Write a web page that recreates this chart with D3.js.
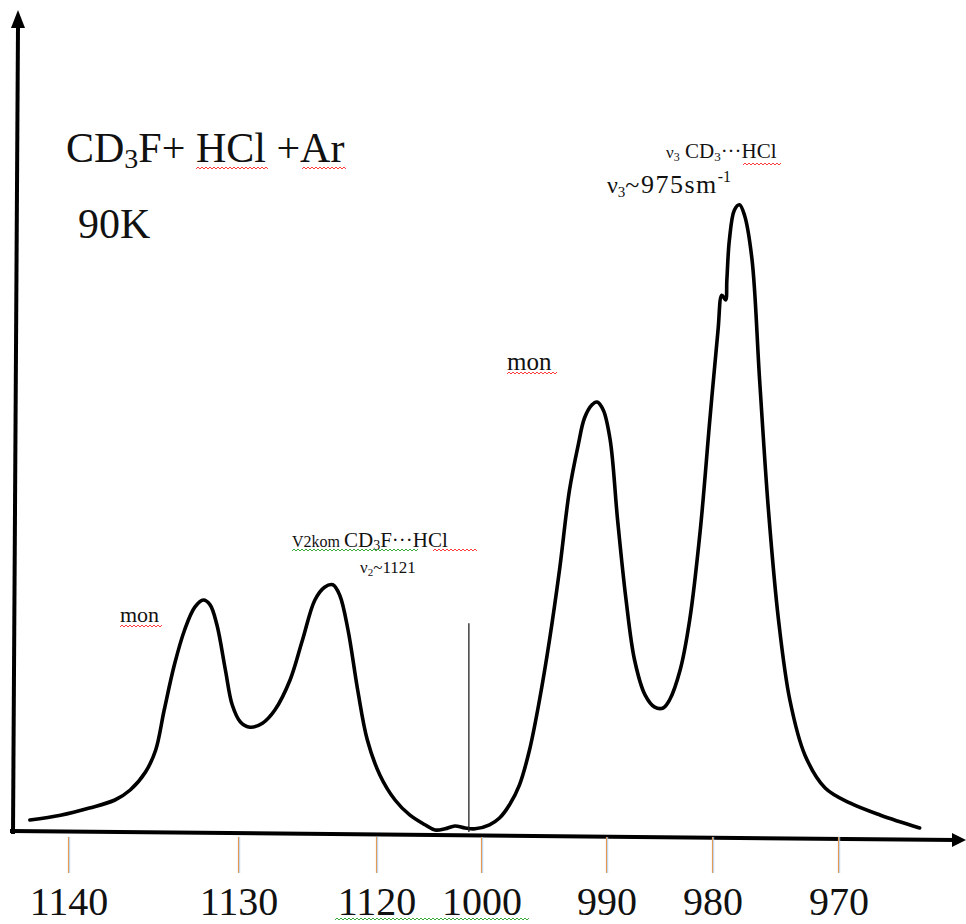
<!DOCTYPE html>
<html>
<head>
<meta charset="utf-8">
<script src="https://cdn.jsdelivr.net/npm/d3@7/dist/d3.min.js"></script>
<style>
  html, body { margin: 0; padding: 0; background: #fff; }
  svg { display: block; }
  text { font-family: "Liberation Serif", "Times New Roman", serif; fill: #111; }
</style>
</head>
<body>
<svg id="chart" width="966" height="924"></svg>
<script>
// ---- data ----
const tickValues = [1140, 1130, 1120, 1000, 990, 980, 970];
const tickLabels = ["1140", "1130", "1120", "1000", "990", "980", "970"];
// wavenumber (cm-1, broken axis) of the traced spectrum
const wavenumber = [1142.3, 1140.5, 1138.8, 1137.3, 1136.4, 1135.5, 1134.9, 1134.4, 1133.8, 1133.2,
  1132.6, 1132.1, 1131.7, 1131.3, 1130.8, 1130.4, 1129.9, 1129.2, 1128.3, 1127.4,
  1126.3, 1125.4, 1124.5, 1123.8, 1123.2, 1122.7, 1122.1, 1121.4, 1120.7, 1116.6,
  1099.4, 1082.3, 1065.1, 1053.7, 1042.3, 1030.9, 1019.4, 1008.0, 999.4, 998.6,
  997.8, 997.0, 996.2, 995.4, 994.6, 993.8, 993.0, 992.3, 991.8, 991.2,
  990.8, 990.3, 989.7, 989.0, 988.2, 987.4, 986.4, 985.5, 984.7, 984.1,
  983.1, 982.2, 981.2, 980.3, 979.6, 979.3, 979.0, 978.9, 978.7, 978.3,
  977.9, 977.5, 976.9, 976.3, 975.6, 974.8, 973.9, 972.7, 971.1, 969.1,
  966.7, 963.6];
// absorbance (arbitrary units)
const absorbance = [1.5, 2.1, 3.0, 4.0, 5.25, 7.5, 10.25, 15.25, 20.9, 25.25,
  28.1, 29.0, 28.4, 25.9, 20.25, 15.9, 13.75, 13.1, 13.6, 15.25,
  19.0, 24.0, 29.0, 30.6, 30.9, 29.6, 25.25, 17.75, 11.5, 7.1,
  4.0, 2.1, 0.9, 0.25, 0.4, 0.75, 0.5, 0.4, 0.9, 1.75,
  3.4, 5.9, 10.25, 16.5, 24.0, 32.75, 42.75, 48.4, 51.75, 53.4,
  53.75, 52.75, 49.0, 39.0, 29.0, 21.5, 17.1, 15.6, 15.5, 16.5,
  20.25, 26.5, 37.75, 51.5, 62.75, 67.1, 66.5, 69.0, 74.0, 77.75,
  78.4, 77.1, 71.5, 56.5, 40.25, 26.5, 16.5, 9.6, 5.5, 3.6,
  2.1, 0.5];
const markerLine = { wn: 1015, top: 26.1 };

// ---- layout ----
const svg = d3.select("#chart");
const tickPx = [69, 239, 377, 482, 607, 713, 839];
const x = d3.scaleLinear().domain(tickValues).range(tickPx);
const y = d3.scaleLinear().domain([0, 100]).range([832, 32]);

// axes (hand drawn look)
svg.append("path").attr("d", "M10,831 L956,840").attr("stroke", "#000").attr("stroke-width", 4).attr("fill", "none");
svg.append("path").attr("d", "M966,840 L952,833 L952,847 Z").attr("fill", "#000");
svg.append("path").attr("d", "M13,834 L18,26").attr("stroke", "#000").attr("stroke-width", 4).attr("fill", "none");
svg.append("path").attr("d", "M18,10 L11,28 L25,28 Z").attr("fill", "#000");

// tick axis
const axis = d3.axisBottom(x).tickValues(tickValues)
  .tickFormat((d, i) => tickLabels[i]).tickSizeInner(36).tickSizeOuter(0).tickPadding(14).offset(0);
const ag = svg.append("g").attr("transform", "translate(0,837)").call(axis);
ag.select(".domain").remove();
ag.selectAll(".tick line").remove();
ag.selectAll(".tick").append("line").attr("x1", -0.5).attr("x2", -0.5).attr("y1", 0).attr("y2", 36)
  .attr("stroke", "#e39a52").attr("stroke-width", 1.2);
ag.selectAll(".tick").append("line").attr("x1", 0.7).attr("x2", 0.7).attr("y1", 0).attr("y2", 36)
  .attr("stroke", "#a9cdee").attr("stroke-width", 0.9);
ag.selectAll(".tick text").attr("font-size", 40).attr("font-family", "Liberation Serif").attr("fill", "#111");

// spectrum
const pts = wavenumber.map((w, i) => [w, absorbance[i]]);
const line = d3.line().x(d => x(d[0])).y(d => y(d[1])).curve(d3.curveCatmullRom.alpha(0.5));
svg.append("path").datum(pts).attr("d", line).attr("fill", "none")
  .attr("stroke", "#000").attr("stroke-width", 3.6).attr("stroke-linejoin", "round").attr("stroke-linecap", "round");

// thin marker line
svg.append("line").attr("x1", x(markerLine.wn)).attr("x2", x(markerLine.wn))
  .attr("y1", y(0)).attr("y2", y(markerLine.top)).attr("stroke", "#222").attr("stroke-width", 1.3);

// squiggle helper
function squiggle(x0, x1, yy, color) {
  let d = `M${x0},${yy}`;
  let up = true;
  for (let xx = x0 + 2; xx <= x1; xx += 2) { d += ` L${xx},${yy + (up ? -2 : 0)}`; up = !up; }
  svg.append("path").attr("d", d).attr("fill", "none").attr("stroke", color).attr("stroke-width", 1);
}

// texts
const t1 = svg.append("text").attr("x", 66).attr("y", 162).attr("font-size", 42);
t1.append("tspan").text("CD");
t1.append("tspan").attr("font-size", 28).attr("dy", 6).text("3");
t1.append("tspan").attr("dy", -6).text("F+ HCl +Ar");
squiggle(196, 268, 169, "#ff3b3b");
squiggle(302, 346, 169, "#ff3b3b");

svg.append("text").attr("x", 78).attr("y", 238).attr("font-size", 42).text("90K");

const t2 = svg.append("text").attr("x", 666).attr("y", 158).attr("font-size", 21);
t2.append("tspan").attr("font-size", 17).text("ν");
t2.append("tspan").attr("font-size", 12).attr("dy", 3).text("3");
t2.append("tspan").attr("dy", -3).text(" CD");
t2.append("tspan").attr("font-size", 13).attr("dy", 3).text("3");
t2.append("tspan").attr("dy", -3).text("···HCl");
squiggle(743, 781, 165, "#ff3b3b");

const t3 = svg.append("text").attr("x", 607).attr("y", 193).attr("font-size", 26);
t3.append("tspan").attr("font-size", 24).text("ν");
t3.append("tspan").attr("font-size", 15).attr("dy", 4).text("3");
t3.append("tspan").attr("dy", -4).attr("letter-spacing", 1.5).text("~975sm");
t3.append("tspan").attr("font-size", 16).attr("dy", -11).text("-1");

const t4 = svg.append("text").attr("x", 292).attr("y", 547).attr("font-size", 21);
t4.append("tspan").attr("font-size", 16).text("V2kom ");
t4.append("tspan").text("CD");
t4.append("tspan").attr("font-size", 14).attr("dy", 3).text("3");
t4.append("tspan").attr("dy", -3).text("F···HCl");
squiggle(292, 418, 551, "#3aa83a");
squiggle(433, 478, 551, "#ff3b3b");

const t5 = svg.append("text").attr("x", 360).attr("y", 573).attr("font-size", 17);
t5.append("tspan").text("ν");
t5.append("tspan").attr("font-size", 11).attr("dy", 3).text("2");
t5.append("tspan").attr("dy", -3).text("~1121");

svg.append("text").attr("x", 120).attr("y", 622).attr("font-size", 22).text("mon");
squiggle(120, 163, 627, "#ff3b3b");
svg.append("text").attr("x", 507).attr("y", 370).attr("font-size", 25).text("mon");
squiggle(507, 557, 374, "#ff3b3b");

squiggle(335, 530, 920, "#3aa83a");
</script>
</body>
</html>
